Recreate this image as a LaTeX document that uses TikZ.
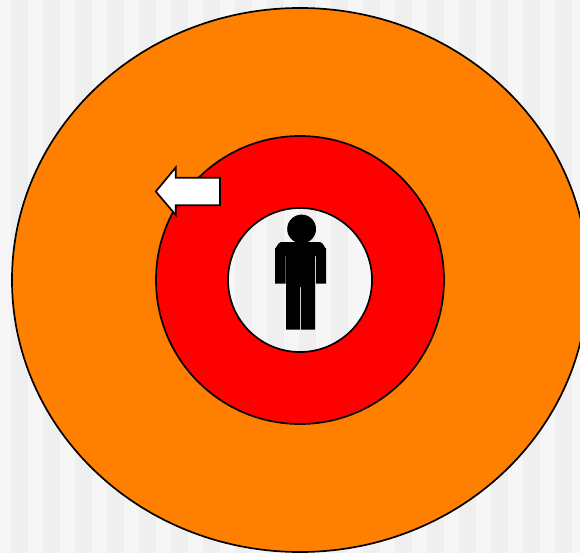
\documentclass[tikz,border=0pt]{standalone}
\definecolor{lightstripe}{HTML}{F6F6F6}
\definecolor{darkstripe}{HTML}{EFEFEF}
\definecolor{ringorange}{HTML}{FF8000}
\tikzset{
  ring/.style={draw=black,line width=1.7pt},
  stripe/.style={fill=darkstripe,draw=none},
  figure/.style={fill=black,draw=none},
}
\begin{document}
\begin{tikzpicture}[x=1pt,y=-1pt]
\useasboundingbox (0,0) rectangle (580,553);
\clip (0,0) rectangle (580,553);
\fill[lightstripe] (0,0) rectangle (580,553);
\foreach \s in {0,...,17}{
  \fill[stripe] ({11+32*\s},0) rectangle ({28+32*\s},553);
}
\draw[ring,fill=ringorange] (300,280) ellipse[x radius=288,y radius=272];
\draw[ring,fill=red] (300,280) circle[radius=144];
\begin{scope}
  \clip (300,280) circle[radius=72];
  \fill[lightstripe] (228,208) rectangle (372,352);
  \foreach \s in {7,...,10}{
    \fill[stripe] ({11+32*\s},208) rectangle ({28+32*\s},352);
  }
\end{scope}
\draw[ring] (300,280) circle[radius=72];
% person
\fill[figure] (301.6,229) circle[radius=14.4];
\fill[figure] (275,283.5) -- (275,248) to[out=-90,in=180] (281,242) -- (320,242) to[out=0,in=-90] (326,248) -- (326,283.5) -- (316,283.5) -- (316,256) -- (315,256) -- (315,329.5) -- (301.2,329.5) -- (301.2,287) -- (300,287) -- (300,329.5) -- (286,329.5) -- (286,256) -- (285.5,256) -- (285.5,283.5) -- cycle;
% arrow
\draw[ring,fill=white,line join=miter] (155.8,191.5) -- (175.7,167.5) -- (175.7,177.7) -- (220,177.7) -- (220,205.3) -- (175.7,205.3) -- (175.7,215) -- cycle;
\end{tikzpicture}
\end{document}
